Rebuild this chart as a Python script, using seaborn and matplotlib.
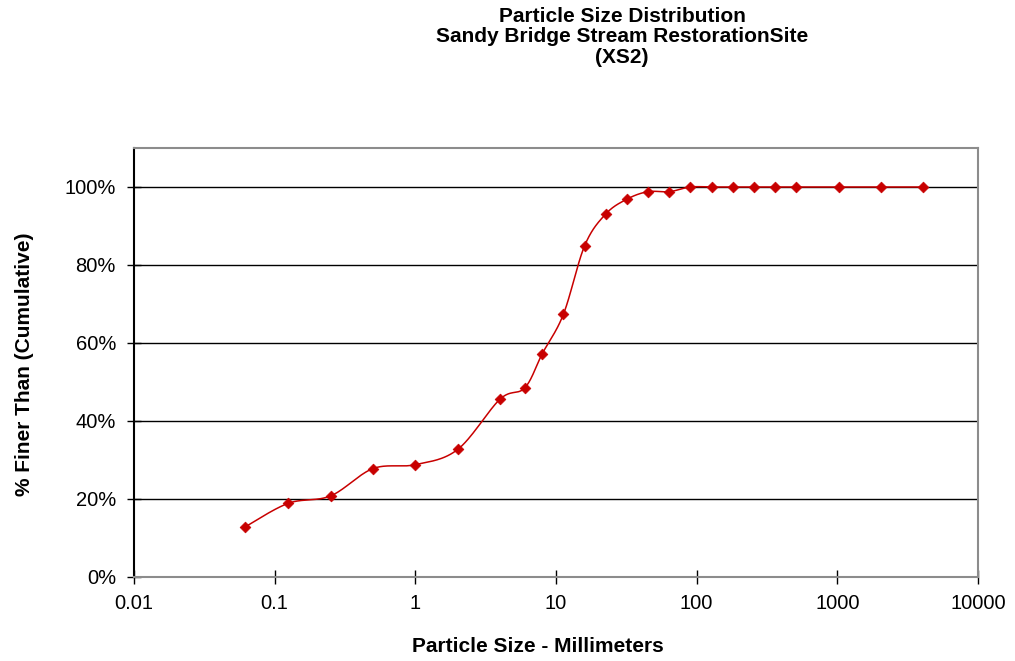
import numpy as np
import pandas as pd
import matplotlib
matplotlib.use("Agg")
import matplotlib.pyplot as plt
import seaborn as sns
from matplotlib.ticker import FuncFormatter, FixedLocator, NullLocator

# ---- data ----
particle_size_mm = [0.062, 0.125, 0.25, 0.5, 1, 2, 4, 6, 8, 11.3, 16, 22.6, 32, 45, 64,
                    90, 128, 180, 256, 362, 512, 1024, 2048, 4096]
pct_finer = [12.9, 18.9, 20.8, 27.8, 28.8, 32.7, 45.6, 48.5, 57.3, 67.4, 85.0, 93.1, 96.9, 98.8, 98.8,
             100, 100, 100, 100, 100, 100, 100, 100, 100]
x_ticks = [0.01, 0.1, 1, 10, 100, 1000, 10000]
x_tick_labels = ["0.01", "0.1", "1", "10", "100", "1000", "10000"]
y_ticks = [0, 20, 40, 60, 80, 100]

title_text = "Particle Size Distribution\nSandy Bridge Stream RestorationSite\n(XS2)"
x_label = "Particle Size - Millimeters"
y_label = "% Finer Than (Cumulative)"

df = pd.DataFrame({"size": particle_size_mm, "pct": pct_finer})

# Smoothed line (Excel-style Catmull-Rom Bezier) computed in log-x space from the data
lx = np.log10(df["size"].to_numpy(dtype=float))
yy = df["pct"].to_numpy(dtype=float)
n = len(lx)
sx, sy = [], []
t = np.linspace(0, 1, 30)
for i in range(n - 1):
    p0 = np.array([lx[max(i - 1, 0)], yy[max(i - 1, 0)]])
    p1 = np.array([lx[i], yy[i]])
    p2 = np.array([lx[i + 1], yy[i + 1]])
    p3 = np.array([lx[min(i + 2, n - 1)], yy[min(i + 2, n - 1)]])
    c1 = p1 + (p2 - p0) / 6.0
    c2 = p2 - (p3 - p1) / 6.0
    pts = ((1 - t)[:, None] ** 3 * p1 + 3 * ((1 - t) ** 2 * t)[:, None] * c1
           + 3 * ((1 - t) * t ** 2)[:, None] * c2 + (t ** 3)[:, None] * p2)
    sx.extend(pts[:, 0]); sy.extend(pts[:, 1])
smooth = pd.DataFrame({"size": 10 ** np.array(sx), "pct": np.array(sy)})

sns.set_theme(style="white")
plt.rcParams["font.family"] = ["Liberation Sans", "DejaVu Sans"]
plt.rcParams["text.color"] = "black"
plt.rcParams["axes.labelcolor"] = "black"

fig = plt.figure(figsize=(10.15, 6.61), dpi=100)
ax = fig.add_axes([134 / 1015, 84 / 661, (978 - 134) / 1015, (577 - 148) / 661])

red = "#C80000"
sns.lineplot(data=smooth, x="size", y="pct", sort=False, estimator=None,
             color=red, linewidth=1.1, ax=ax, zorder=3)
sns.scatterplot(data=df, x="size", y="pct", marker="D", s=30, color=red,
                edgecolor=red, linewidth=0.5, ax=ax, zorder=4)

ax.set_xscale("log")
ax.set_xlim(0.01, 10000)
ax.set_ylim(0, 110)
ax.xaxis.set_major_locator(FixedLocator(x_ticks))
ax.xaxis.set_minor_locator(NullLocator())
ax.set_xticklabels(x_tick_labels)
ax.yaxis.set_major_locator(FixedLocator(y_ticks))
ax.yaxis.set_major_formatter(FuncFormatter(lambda v, p: f"{v:.0f}%"))

ax.grid(False)
for yv in y_ticks[1:]:
    ax.axhline(yv, color="black", linewidth=1.0, zorder=1)

for side in ["top", "right", "bottom"]:
    ax.spines[side].set_color("#8c8c8c")
    ax.spines[side].set_linewidth(1.5)
ax.spines["left"].set_color("black")
ax.spines["left"].set_linewidth(1.5)

ax.tick_params(axis="both", which="major", direction="inout", length=10, width=1,
               color="black", labelsize=14.5, labelcolor="black",
               bottom=True, left=True)
ax.tick_params(axis="y", pad=8)
ax.tick_params(axis="x", pad=7)

ax.set_xlabel(x_label, fontsize=15, fontweight="bold")
ax.set_ylabel(y_label, fontsize=15, fontweight="bold")
ax.xaxis.label.set_va("center")
ax.yaxis.label.set_va("center")
ax.xaxis.set_label_coords(538 / 1015, 1 - 647 / 661, transform=fig.transFigure)
ax.yaxis.set_label_coords(25 / 1015, 1 - 364 / 661, transform=fig.transFigure)

fig.text(622 / 1015, 1 - 37 / 661, title_text, ha="center", va="center",
         fontsize=15, fontweight="bold", linespacing=1.13)

fig.savefig("out.png", dpi=100)
